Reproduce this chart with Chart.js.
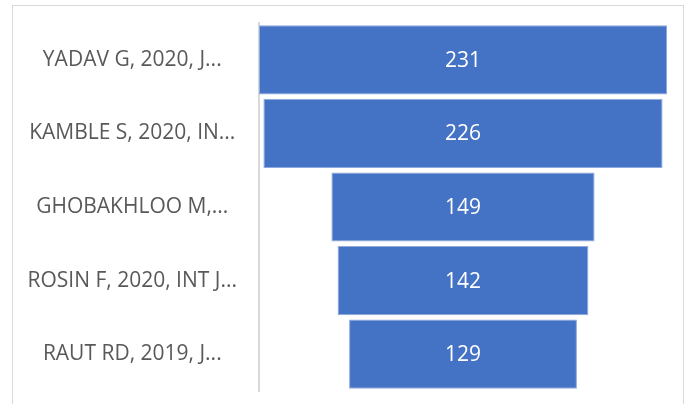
<!DOCTYPE html>
<html>
<head>
<meta charset="utf-8">
<script src="https://cdn.jsdelivr.net/npm/chart.js@4/dist/chart.umd.min.js"></script>
<style>
  html, body { margin: 0; padding: 0; background: #fff; overflow: hidden; }
  canvas { display: block; }
</style>
</head>
<body>
<canvas id="funnelChart" width="688" height="404"></canvas>
<script>
// funnel stages (top to bottom)
const authors = ['YADAV G, 2020, J...', 'KAMBLE S, 2020, IN...', 'GHOBAKHLOO M,...', 'ROSIN F, 2020, INT J...', 'RAUT RD, 2019, J...'];
const citations = [231, 226, 149, 142, 129];

const maxVal = Math.max(...citations);

// outer frame like the office chart area
const framePlugin = {
    id: 'frame',
    beforeDraw(chart) {
        const ctx = chart.ctx;
        ctx.save();
        ctx.strokeStyle = '#d9d9d9';
        ctx.lineWidth = 1;
        ctx.strokeRect(12.5, 5.5, 671, 420);
        ctx.restore();
    }
};

// value labels in the middle of each bar
const valueLabels = {
    id: 'valueLabels',
    afterDatasetsDraw(chart) {
        const ctx = chart.ctx;
        const meta = chart.getDatasetMeta(0);
        ctx.save();
        ctx.fillStyle = '#ffffff';
        ctx.font = '21px "Open Sans"';
        ctx.textAlign = 'center';
        ctx.textBaseline = 'middle';
        meta.data.forEach((bar, i) => {
            ctx.fillText(String(citations[i]), bar.x - (bar.x - bar.base) / 2, bar.y + 1);
        });
        ctx.restore();
    }
};

const chart = new Chart(document.getElementById('funnelChart'), {
    type: 'bar',
    data: {
        labels: authors,
        datasets: [{
            data: citations.map(v => [-v / 2, v / 2]),
            backgroundColor: '#4472c4',
            borderColor: '#8faadc',
            borderWidth: 1,
            borderSkipped: false,
            barPercentage: 0.94,
            categoryPercentage: 1
        }]
    },
    options: {
        indexAxis: 'y',
        responsive: false,
        animation: false,
        layout: { padding: { left: 13, right: 21, top: 23, bottom: 13 } },
        plugins: {
            legend: { display: false },
            tooltip: { enabled: false }
        },
        scales: {
            x: {
                display: false,
                min: -maxVal / 2,
                max: maxVal / 2
            },
            y: {
                grid: { display: false, drawTicks: false },
                border: { display: true, color: '#d9d9d9', width: 2 },
                ticks: {
                    color: '#595959',
                    font: { family: '"Open Sans"', size: 21 },
                    padding: 22,
                    crossAlign: 'center'
                },
                afterFit(scale) {
                    scale.width = 246;
                    // tick padding should not push the plot area in
                    scale.paddingTop = 0;
                    scale.paddingBottom = 0;
                }
            }
        }
    },
    plugins: [framePlugin, valueLabels]
});
</script>
</body>
</html>
